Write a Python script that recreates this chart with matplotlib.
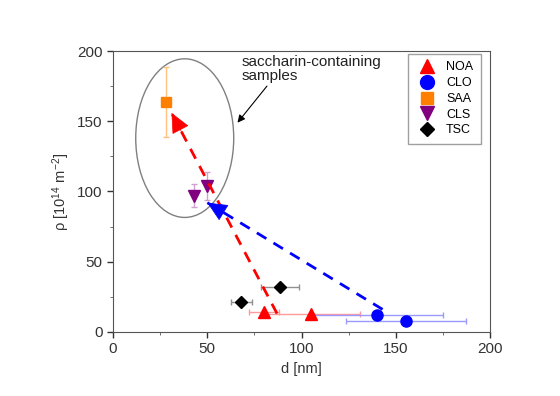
import matplotlib
matplotlib.use("Agg")
import matplotlib.pyplot as plt
from matplotlib.patches import Ellipse
from matplotlib.lines import Line2D

plt.rcParams['font.family'] = ['Liberation Sans', 'DejaVu Sans']
plt.rcParams['mathtext.default'] = 'regular'

# data
noa_x = [80, 105]; noa_y = [14, 13]; noa_xerr = [8, 26]
clo_x = [140, 155.5]; clo_y = [12, 8]; clo_xerr = [35, 32]
saa_x = [28]; saa_y = [164]; saa_yerr = [25]
cls_x = [43, 50]; cls_y = [97, 104]; cls_yerr = [8, 10]
tsc_x = [68, 88.5]; tsc_y = [21, 32]; tsc_xerr = [5.5, 10]

red_arrow = [(87, 13), (31, 156)]
blue_arrow = [(143, 16), (50, 92)]
ellipse_c = (38, 138); ellipse_w = 52; ellipse_h = 113

fig = plt.figure(figsize=(5.6, 3.96), dpi=100)
ax = fig.add_axes([0.202, 0.162, 0.673, 0.709])

ax.errorbar(noa_x, noa_y, xerr=noa_xerr, fmt='^', color='red', ms=8, ecolor='#ff9a9a',
            elinewidth=1, capsize=2, zorder=3)
ax.errorbar(clo_x, clo_y, xerr=clo_xerr, fmt='o', color='blue', ms=8, ecolor='#9a9aff',
            elinewidth=1, capsize=2, zorder=3)
ax.errorbar(saa_x, saa_y, yerr=saa_yerr, fmt='s', color='#ff8000', ms=7, ecolor='#ffc080',
            elinewidth=1, capsize=2, zorder=3)
ax.errorbar(cls_x, cls_y, yerr=cls_yerr, fmt='v', color='#800080', ms=8, ecolor='#d0a0d0',
            elinewidth=1, capsize=2, zorder=3)
ax.errorbar(tsc_x, tsc_y, xerr=tsc_xerr, fmt='D', color='black', ms=6, ecolor='#909090',
            elinewidth=1, capsize=2, zorder=3)

for (p0, p1), c in [(red_arrow, 'red'), (blue_arrow, 'blue')]:
    ax.plot([p0[0], p1[0]], [p0[1], p1[1]], color=c, lw=2, ls=(0, (4, 3)), zorder=4)
    # solid arrowhead at the tip
    f = 0.12
    mid = (p1[0] + (p0[0] - p1[0]) * f, p1[1] + (p0[1] - p1[1]) * f)
    ax.annotate('', xy=p1, xytext=mid,
                arrowprops=dict(arrowstyle='-|>,head_length=1.3,head_width=0.6', color=c,
                                lw=0.5, shrinkA=0, shrinkB=0), zorder=5)

ax.add_patch(Ellipse(ellipse_c, ellipse_w, ellipse_h, fill=False, edgecolor='#808080', lw=1))
ax.annotate('saccharin-containing\nsamples', xy=(66, 149), xytext=(68, 197),
            ha='left', va='top', fontsize=11, color='#222222', linespacing=1.0,
            arrowprops=dict(arrowstyle='-|>', color='black', lw=0.8, shrinkA=0, shrinkB=0,
                            relpos=(0.2, 0)))

ax.set_xlim(0, 200); ax.set_ylim(0, 200)
ax.set_xticks([0, 50, 100, 150, 200]); ax.set_yticks([0, 50, 100, 150, 200])
ax.set_xticks([25, 75, 125, 175], minor=True); ax.set_yticks([25, 75, 125, 175], minor=True)
ax.tick_params(direction='out', length=4, width=1, labelsize=11, colors='#333333')
ax.tick_params(which='minor', direction='out', length=2.5, colors='#555555')
for s in ax.spines.values():
    s.set_color('#555555')
ax.set_xlabel('d [nm]', fontsize=10.5, color='#333333')
ax.set_ylabel('ρ [10$^{14}$ m$^{-2}$]', fontsize=10.5, color='#333333')

handles = [
    Line2D([], [], ls='', marker='^', color='red', ms=10),
    Line2D([], [], ls='', marker='o', color='blue', ms=10),
    Line2D([], [], ls='', marker='s', color='#ff8000', ms=8),
    Line2D([], [], ls='', marker='v', color='#800080', ms=10),
    Line2D([], [], ls='', marker='D', color='black', ms=7),
]
labels = ['NOA', 'CLO', 'SAA', 'CLS', 'TSC']
leg = ax.legend(handles, labels, loc='upper right', fontsize=9, handletextpad=0.6,
                borderpad=0.6, labelspacing=0.3, frameon=True, fancybox=False,
                edgecolor='#888888', bbox_to_anchor=(0.975, 0.99), borderaxespad=0.0,
                handlelength=1.8)

fig.savefig('out.png', dpi=100)
